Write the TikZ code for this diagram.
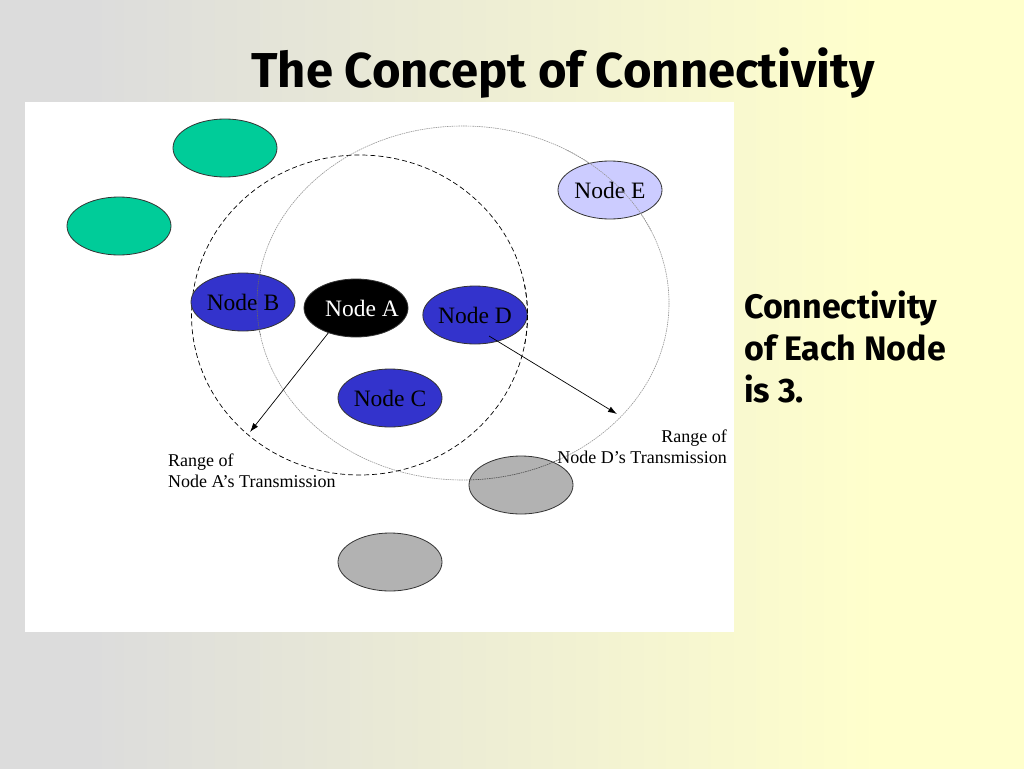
\documentclass[tikz,border=0pt]{standalone}
\usepackage{fontspec}
\setmainfont{Liberation Serif}
\newfontfamily\headfont{Fira Sans}
\usetikzlibrary{shapes.geometric,arrows.meta}
\definecolor{bggray}{RGB}{220,220,220}
\definecolor{bgyellow}{RGB}{255,255,204}
\definecolor{nodeblue}{RGB}{51,51,204}
\definecolor{nodelav}{RGB}{204,204,255}
\definecolor{nodegreen}{RGB}{0,204,153}
\definecolor{nodegray}{RGB}{178,178,178}
\definecolor{rangegray}{RGB}{150,150,150}
\tikzset{
  netnode/.style={ellipse, draw=black!80, line width=0.8pt, inner sep=0pt,
    minimum width=104pt, minimum height=58pt, font=\fontsize{23.5}{26}\selectfont},
  rangelabel/.style={font=\fontsize{18}{21.5}\selectfont, inner sep=0pt},
  headtext/.style={font=\headfont\bfseries\fontsize{49}{52}\selectfont, inner sep=0pt},
  sidetext/.style={font=\headfont\bfseries\fontsize{34}{42}\selectfont, inner sep=0pt, align=left},
  rangeA/.style={draw=black, line width=0.7pt, dash pattern=on 5pt off 3pt},
  rangeD/.style={draw=rangegray, line width=0.6pt, dash pattern=on 1.5pt off 0.8pt},
  ptr/.style={draw=black, line width=0.7pt, -{Latex[length=9pt,width=6pt]}}
}
\begin{document}
\begin{tikzpicture}[x=1pt,y=-1pt]
\useasboundingbox (0,0) rectangle (1024,768);
% background
\fill[bgyellow] (-5,-5) rectangle (1030,775);
\fill[bggray] (-5,-5) rectangle (91,775);
\shade[left color=bggray, right color=bgyellow] (90,-5) rectangle (880,775);
% white panel
\fill[white] (25,102) rectangle (734,632);
% title
\node[headtext, anchor=base] (title) at (563,87) {The Concept of Connectivity};
% ranges
\draw[rangeD] (463,303) ellipse [x radius=206, y radius=177];
\draw[rangeA] (359.5,315) ellipse [x radius=168, y radius=160];
% nodes
\node[netnode, fill=nodegreen] (g1) at (225,148) {};
\node[netnode, fill=nodegreen] (g2) at (119,226) {};
\node[netnode, fill=nodelav] (E) at (610,190) {Node E};
\node[netnode, fill=nodeblue] (B) at (243,302) {Node B};
\node[netnode, fill=black, text=white] (A) at (356,308) {\makebox[60pt]{\hspace*{12pt}Node A}};
\node[netnode, fill=nodeblue] (D) at (475,315) {Node D};
\node[netnode, fill=nodeblue] (C) at (390,398) {Node C};
\node[netnode, fill=nodegray] (h1) at (521,485) {};
\node[netnode, fill=nodegray] (h2) at (390,562) {};
% range lines visible over some nodes
\begin{scope}
\clip (558,150) rectangle (670,230);
\draw[rangeD] (463,303) ellipse [x radius=206, y radius=177];
\end{scope}
\begin{scope}
\clip (250,270) rectangle (296,335);
\draw[rangeD, draw=black!60] (463,303) ellipse [x radius=206, y radius=177];
\end{scope}
\begin{scope}
\clip (469,455) rectangle (560,500);
\draw[rangeD, draw=black!70] (463,303) ellipse [x radius=206, y radius=177];
\end{scope}
\begin{scope}
\clip (515,285) rectangle (535,345);
\draw[rangeA] (359.5,315) ellipse [x radius=168, y radius=160];
\end{scope}
% pointers
\coordinate (aend) at (250,432);
\coordinate (dstart) at (489,336);
\coordinate (dend) at (617,414);
\draw[ptr] (A.222) -- (aend);
\draw[ptr] (dstart) -- (dend);
% labels
\node[rangelabel, anchor=base west, align=left] (labA) at (168,487.5) {Range of\\Node A’s Transmission};
\node[rangelabel, anchor=base east, align=right] (labD) at (727,463.5) {Range of\\Node D’s Transmission};
\node[sidetext, anchor=base west] (side) at (744,402) {Connectivity\\of Each Node\\is 3.};
\end{tikzpicture}
\end{document}
